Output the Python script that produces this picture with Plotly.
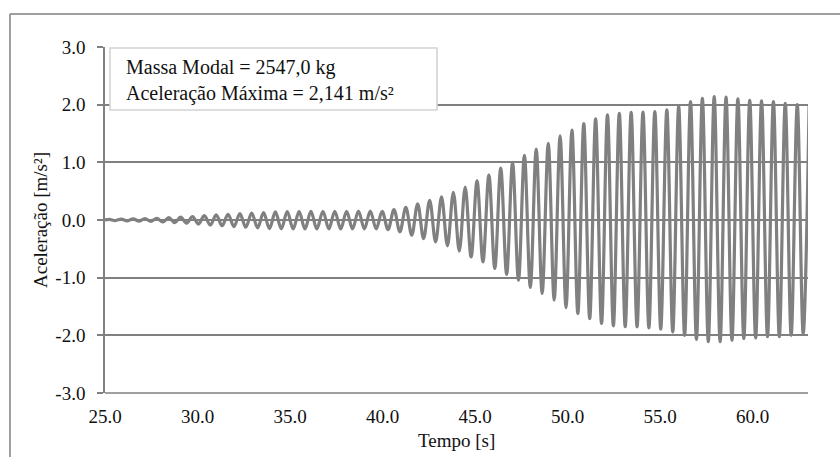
import plotly.graph_objects as go

# ---- data ----
start_point = (25.0, 0.0)

peak_times = [25.24, 25.88, 26.52, 27.16, 27.80, 28.45, 29.09, 29.73, 30.37, 31.01,
              31.65, 32.29, 32.93, 33.57, 34.21, 34.85, 35.49, 36.13, 36.78, 37.42,
              38.06, 38.70, 39.34, 39.98, 40.62, 41.26, 41.90, 42.55, 43.19, 43.83,
              44.47, 45.11, 45.75, 46.39, 47.03, 47.67, 48.31, 48.96, 49.60, 50.24,
              50.88, 51.52, 52.16, 52.80, 53.44, 54.08, 54.72, 55.37, 56.01, 56.65,
              57.29, 57.93, 58.57, 59.21, 59.85, 60.49, 61.13, 61.77, 62.42, 63.06]
peak_values = [0.01, 0.015, 0.02, 0.025, 0.03, 0.04, 0.05, 0.06, 0.075, 0.09,
               0.10, 0.11, 0.12, 0.13, 0.14, 0.145, 0.145, 0.15, 0.15, 0.15,
               0.15, 0.155, 0.155, 0.15, 0.18, 0.22, 0.28, 0.34, 0.40, 0.48,
               0.57, 0.68, 0.78, 0.90, 1.00, 1.12, 1.23, 1.33, 1.46, 1.56,
               1.67, 1.755, 1.825, 1.85, 1.865, 1.87, 1.88, 1.91, 1.97, 2.055,
               2.11, 2.141, 2.13, 2.10, 2.075, 2.065, 2.055, 2.025, 2.00, 1.98]

trough_times = [25.56, 26.20, 26.84, 27.48, 28.12, 28.77, 29.41, 30.05, 30.69, 31.33,
                31.97, 32.61, 33.25, 33.89, 34.53, 35.17, 35.81, 36.45, 37.10, 37.74,
                38.38, 39.02, 39.66, 40.30, 40.94, 41.58, 42.22, 42.87, 43.51, 44.15,
                44.79, 45.43, 46.07, 46.71, 47.35, 47.99, 48.63, 49.28, 49.92, 50.56,
                51.20, 51.84, 52.48, 53.12, 53.76, 54.40, 55.04, 55.69, 56.33, 56.97,
                57.61, 58.25, 58.89, 59.53, 60.17, 60.81, 61.45, 62.09, 62.74]
trough_values = [-0.01, -0.015, -0.02, -0.025, -0.035, -0.045, -0.055, -0.07, -0.09, -0.10,
                 -0.115, -0.125, -0.137, -0.148, -0.154, -0.155, -0.155, -0.155, -0.155, -0.155,
                 -0.155, -0.155, -0.155, -0.166, -0.206, -0.264, -0.322, -0.38, -0.448, -0.54,
                 -0.64, -0.725, -0.84, -0.945, -1.045, -1.17, -1.275, -1.39, -1.52, -1.62,
                 -1.71, -1.795, -1.835, -1.85, -1.85, -1.87, -1.89, -1.94, -2.00, -2.07,
                 -2.11, -2.11, -2.085, -2.055, -2.045, -2.025, -2.025, -2.00, -1.97]

x_tick_vals = [25, 30, 35, 40, 45, 50, 55, 60]
x_tick_text = ["25.0", "30.0", "35.0", "40.0", "45.0", "50.0", "55.0", "60.0"]
y_tick_vals = [-3, -2, -1, 0, 1, 2, 3]
y_tick_text = ["-3.0", "-2.0", "-1.0", "0.0", "1.0", "2.0", "3.0"]

info_lines = ["Massa Modal = 2547,0 kg", "Aceleração Máxima = 2,141 m/s²"]

# ---- build series from the extrema ----
pts = [start_point] + list(zip(peak_times, peak_values)) + list(zip(trough_times, trough_values))
pts.sort(key=lambda p: p[0])
t = [p[0] for p in pts]
a = [p[1] for p in pts]

FONT = "Liberation Serif"
GRAY = "#808080"
TXT = "#111111"

fig = go.Figure()
fig.add_trace(go.Scatter(x=t, y=a, mode="lines",
                         line=dict(color=GRAY, width=3.2, shape="spline", smoothing=1.0),
                         hoverinfo="skip", showlegend=False))

W, H = 840, 457
L, R, T, B = 105, 32, 47, 64
pw, ph = W - L - R, H - T - B

def px(xp):
    return (xp - L) / pw

def py(yp):
    return (H - B - yp) / ph

fig.update_layout(
    width=W, height=H,
    margin=dict(l=L, r=R, t=T, b=B, pad=0),
    paper_bgcolor="white", plot_bgcolor="white",
    font=dict(family=FONT, size=19, color=TXT),
    xaxis=dict(range=[25, 63.0], tickvals=x_tick_vals, ticktext=x_tick_text,
               showgrid=False, zeroline=False, showline=False,
               ticks="outside", ticklen=6, tickcolor="rgba(0,0,0,0)",
               tickfont=dict(family=FONT, size=19, color=TXT)),
    yaxis=dict(range=[-3, 3], tickvals=y_tick_vals, ticktext=y_tick_text,
               showgrid=True, gridcolor=GRAY, gridwidth=1.6,
               zeroline=True, zerolinecolor=GRAY, zerolinewidth=1.6,
               showline=True, linecolor=GRAY, linewidth=1.6,
               ticks="outside", ticklen=6, tickcolor=GRAY, tickwidth=1.6,
               ticklabelstandoff=8,
               tickfont=dict(family=FONT, size=19, color=TXT)),
)

# bottom axis line at -3 (gridline)
fig.add_shape(type="line", xref="paper", yref="paper", x0=0, x1=1, y0=0, y1=0,
              line=dict(color=GRAY, width=1.6))

# outer frame (top and left edges visible)
fig.add_shape(type="line", xref="paper", yref="paper", x0=px(10), x1=px(842), y0=py(14), y1=py(14),
              line=dict(color=GRAY, width=1.5))
fig.add_shape(type="line", xref="paper", yref="paper", x0=px(10), x1=px(10), y0=py(14), y1=py(460),
              line=dict(color=GRAY, width=1.5))

# info box
fig.add_shape(type="rect", xref="paper", yref="paper", x0=px(110), x1=px(437), y0=py(110), y1=py(48),
              line=dict(color="#d4d4d4", width=1.6), fillcolor="white", layer="above")
fig.add_annotation(xref="paper", yref="paper", x=px(124), y=py(80), xanchor="left", yanchor="middle",
                   text="<br>".join(info_lines), showarrow=False, align="left",
                   font=dict(family=FONT, size=20, color=TXT))

# axis titles
fig.add_annotation(xref="paper", yref="paper", x=px(40), y=0.5, textangle=-90,
                   xanchor="center", yanchor="middle", text="Aceleração [m/s²]", showarrow=False,
                   font=dict(family=FONT, size=19, color=TXT))
fig.add_annotation(xref="paper", yref="paper", x=0.5, y=py(440),
                   xanchor="center", yanchor="middle", text="Tempo [s]", showarrow=False,
                   font=dict(family=FONT, size=19, color=TXT))

fig.write_html("out.html")
